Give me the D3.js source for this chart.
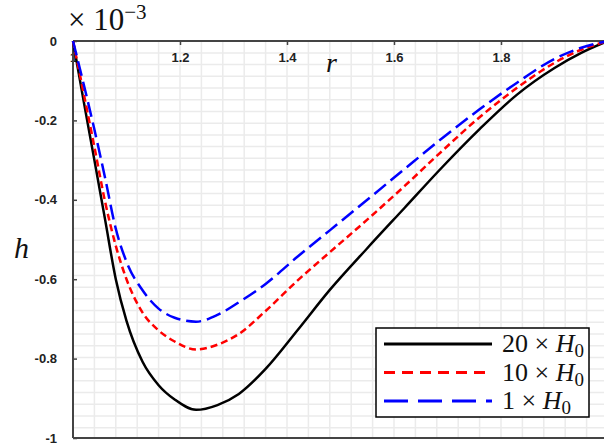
<!DOCTYPE html>
<html>
<head>
<meta charset="utf-8">
<script src="https://cdnjs.cloudflare.com/ajax/libs/d3/7.8.5/d3.min.js"></script>
<style>
  body { margin: 0; background: #fff; }
  .tick text { font-family: 'Liberation Sans', Arial, sans-serif; font-weight: bold; font-size: 13px; fill: #222; }
  .math { font-family: 'Liberation Serif', 'DejaVu Serif', serif; fill: #111; }
</style>
</head>
<body>
<div id="chart"></div>
<script>
const width = 604,
  height = 447
const margin = { top: 41, left: 73, bottom: 9 }

// r values and h values (x 1e-3)
const rValues = [1, 1.02, 1.04, 1.06, 1.08, 1.10, 1.13, 1.16, 1.19, 1.23, 1.27, 1.31, 1.36, 1.42, 1.48, 1.55, 1.62, 1.69, 1.76, 1.83, 1.90, 1.95, 2]
const h20 = [0, -0.152, -0.30, -0.45, -0.60, -0.705, -0.808, -0.867, -0.903, -0.929, -0.917, -0.889, -0.826, -0.728, -0.627, -0.522, -0.420, -0.318, -0.222, -0.135, -0.068, -0.030, 0]
const h10 = [0, -0.132, -0.267, -0.405, -0.516, -0.600, -0.684, -0.729, -0.757, -0.777, -0.765, -0.738, -0.680, -0.603, -0.532, -0.450, -0.365, -0.277, -0.192, -0.118, -0.055, -0.022, 0]
const h1 = [0, -0.109, -0.223, -0.345, -0.473, -0.556, -0.628, -0.674, -0.697, -0.707, -0.690, -0.658, -0.612, -0.543, -0.477, -0.400, -0.322, -0.245, -0.172, -0.105, -0.045, -0.017, 0]

const seriesNames = ['20', '10', '1']
const xTicks = [1, 1.2, 1.4, 1.6, 1.8]
const yTicks = [0, -0.2, -0.4, -0.6, -0.8, -1]

const series = [
  { name: seriesNames[0], values: h20, color: '#000', dash: null, legendDash: null },
  { name: seriesNames[1], values: h10, color: '#ff0000', dash: '7,4', legendDash: '11,7' },
  { name: seriesNames[2], values: h1, color: '#0000ff', dash: '15,6', legendDash: '24,10' }
]

const xScale = d3.scaleLinear()
  .domain([1, 2])
  .range([margin.left, margin.left + 535])

const yScale = d3.scaleLinear()
  .domain([0, -1])
  .range([margin.top, height - margin.bottom])

const svg = d3.select('#chart')
  .append('svg')
  .attr('width', width)
  .attr('height', height)

// grid
const grid = svg.append('g').attr('class', 'grid')
grid.selectAll('line.v')
  .data(d3.range(1.04, 2.001, 0.04))
  .enter().append('line')
  .attr('x1', d => xScale(d)).attr('x2', d => xScale(d))
  .attr('y1', yScale(0)).attr('y2', yScale(-1))
  .attr('stroke', '#ebebeb').attr('stroke-width', 1.5)
grid.selectAll('line.h')
  .data(d3.range(-0.03, -1.0, -0.0295))
  .enter().append('line')
  .attr('x1', xScale(1)).attr('x2', width)
  .attr('y1', d => yScale(d)).attr('y2', d => yScale(d))
  .attr('stroke', '#ebebeb').attr('stroke-width', 1.5)

// axes
const xAxis = svg.append('g')
  .attr('transform', 'translate(0,' + yScale(0) + ')')
  .call(d3.axisBottom(xScale).tickValues(xTicks).tickSize(4).tickPadding(8)
    .tickFormat(d => d === 1 ? '1' : d3.format('.1f')(d)))
xAxis.select('.domain').attr('d', 'M' + xScale(1) + ',0H' + width)

const yAxis = svg.append('g')
  .attr('transform', 'translate(' + xScale(1) + ',0)')
  .call(d3.axisRight(yScale).tickValues(yTicks).tickSize(4)
    .tickFormat(d => d === 0 ? '0' : d === -1 ? '-1' : d3.format('.1f')(d).replace('−', '-')))
yAxis.selectAll('.tick text').attr('x', -16).attr('text-anchor', 'end')
yAxis.select('.domain').attr('d', 'M0,' + yScale(0) + 'V' + yScale(-1))

svg.selectAll('.domain').attr('stroke', '#444').attr('stroke-width', 2)
svg.selectAll('.tick line').attr('stroke', '#444').attr('stroke-width', 1.5)

svg.append('line')
  .attr('x1', xScale(1)).attr('x2', width)
  .attr('y1', yScale(-1)).attr('y2', yScale(-1))
  .attr('stroke', '#444').attr('stroke-width', 2)

// curves
const line = d3.line()
  .x((d, i) => xScale(rValues[i]))
  .y(d => yScale(d))
  .curve(d3.curveMonotoneX)

svg.selectAll('path.curve')
  .data(series)
  .enter().append('path')
  .attr('class', 'curve')
  .attr('d', d => line(d.values))
  .attr('fill', 'none')
  .attr('stroke', d => d.color)
  .attr('stroke-width', 2.5)
  .attr('stroke-dasharray', d => d.dash)

// labels
const exp = svg.append('text').attr('class', 'math')
  .attr('x', 68).attr('y', 30).attr('font-size', 31)
exp.append('tspan').text('× 10')
exp.append('tspan').text('−3').attr('font-size', 21).attr('dy', -11)

svg.append('text').attr('class', 'math')
  .attr('x', 326).attr('y', 72).attr('font-size', 28)
  .attr('font-style', 'italic').text('r')

svg.append('text').attr('class', 'math')
  .attr('x', 14).attr('y', 258).attr('font-size', 30)
  .attr('font-style', 'italic').text('h')

// legend
const legend = svg.append('g').attr('class', 'legend')
legend.append('rect')
  .attr('x', 376).attr('y', 328)
  .attr('width', 213).attr('height', 89)
  .attr('fill', '#fff').attr('stroke', '#000').attr('stroke-width', 1.5)

const rows = legend.selectAll('g.row')
  .data(series)
  .enter().append('g')
  .attr('transform', (d, i) => 'translate(0,' + (344 + i * 28.5) + ')')

rows.append('line')
  .attr('x1', 384).attr('x2', 492)
  .attr('stroke', d => d.color)
  .attr('stroke-width', 3)
  .attr('stroke-dasharray', d => d.legendDash)

const lt = rows.append('text').attr('class', 'math')
  .attr('x', 502).attr('y', 8).attr('font-size', 26)
lt.append('tspan').text(d => d.name + ' × ')
lt.append('tspan').attr('font-style', 'italic').text('H')
lt.append('tspan').attr('font-size', 19).attr('dy', 5).text('0')
</script>
</body>
</html>
